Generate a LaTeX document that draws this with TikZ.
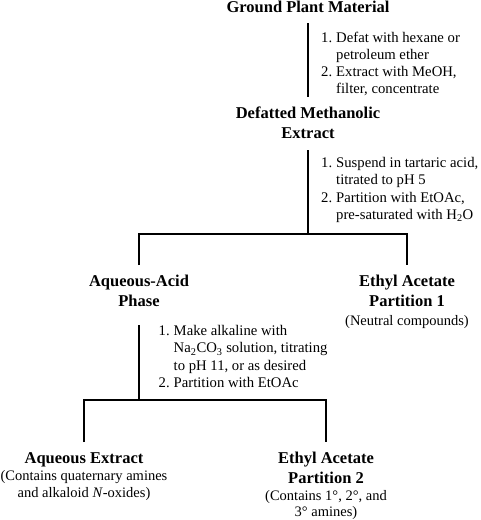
\documentclass[tikz,border=0pt]{standalone}
\usepackage{fontspec}
\setmainfont{Liberation Serif}
\begin{document}
\begin{tikzpicture}[x=1pt, y=-1pt,
		title/.style={align=center, anchor=north, inner xsep=0pt, inner ysep=10pt, font=\fontsize{16.5}{20}\selectfont\bfseries},
		note/.style={align=center, anchor=north, inner sep=0pt, font=\fontsize{14.5}{17}\selectfont},
		steps/.style={anchor=north west, inner sep=0pt, font=\fontsize{14.7}{17.2}\selectfont},
		link/.style={line width=2pt}]
		\useasboundingbox (0,0) rectangle (480,520);
		
		%--- material e extrato
		\node (ground) at (308,-9) [title] {Ground Plant Material};
		\node (defat) at (308,97) [title] {Defatted Methanolic\\ Extract};
		\node (defatsteps) at (321,30) [steps] {\begin{tabular}{@{}l@{\hspace{4pt}}l@{}}
				1. & Defat with hexane or\\
				   & petroleum ether\\
				2. & Extract with MeOH,\\
				   & filter, concentrate
			\end{tabular}};
		\draw[link] (ground.south) -- (defat.north);
		
		%--- primeira partição
		\node (partsteps) at (321,155.5) [steps] {\begin{tabular}{@{}l@{\hspace{4pt}}l@{}}
				1. & Suspend in tartaric acid,\\
				   & titrated to pH 5\\
				2. & Partition with EtOAc,\\
				   & pre-saturated with H\textsubscript{2}O
			\end{tabular}};
		\coordinate (split1) at (308,234);
		\node (aq) at (139,265) [title] {Aqueous-Acid\\ Phase};
		\node (ea1) at (407,265) [title] {Ethyl Acetate\\ Partition 1};
		\node (ea1note) at (407,315.5) [note] {(Neutral compounds)};
		\draw[link, shorten <=1pt] (defat.south) -- (split1);
		\draw[link] (aq.north) |- (split1) -| (ea1.north);
		
		%--- segunda partição
		\node (basesteps) at (158.5,323.5) [steps] {\begin{tabular}{@{}l@{\hspace{4pt}}l@{}}
				1. & Make alkaline with\\
				   & Na\textsubscript{2}CO\textsubscript{3} solution, titrating\\
				   & to pH 11, or as desired\\
				2. & Partition with EtOAc
			\end{tabular}};
		\coordinate (split2) at (139,400);
		\node (aqx) at (84,442) [title] {Aqueous Extract};
		\node (aqxnote) at (84,470.5) [note] {(Contains quaternary amines\\ and alkaloid \textit{N}-oxides)};
		\node (ea2) at (326,442) [title] {Ethyl Acetate\\ Partition 2};
		\node (ea2note) at (326,490) [note, font=\fontsize{14.5}{16.5}\selectfont] {(Contains 1°, 2°, and\\ 3° amines)};
		\draw[link, shorten <=8pt] (aq.south) -- (split2);
		\draw[link] (aqx.north) |- (split2) -| (ea2.north);
	\end{tikzpicture}
\end{document}
